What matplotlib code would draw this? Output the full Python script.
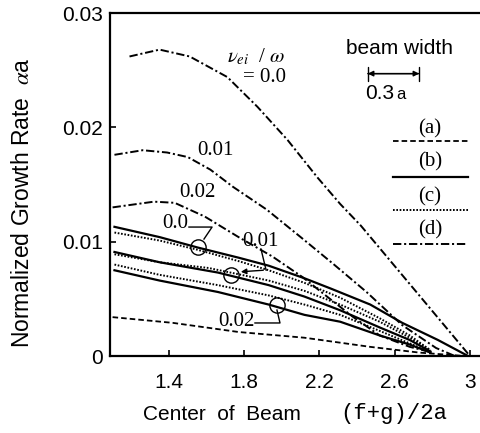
import matplotlib
matplotlib.use("Agg")
import matplotlib.pyplot as plt

plt.rcParams['font.family'] = ['Liberation Sans', 'DejaVu Sans']
plt.rcParams['mathtext.fontset'] = 'stix'
plt.rcParams['lines.scale_dashes'] = False

# (d) dash-dot curves, nu_ei/omega = 0.0, 0.01, 0.02
d00_x = [1.19, 1.35, 1.51, 1.71, 1.87, 2.03, 2.19, 2.31, 2.42, 2.70, 3.0]
d00_y = [0.0262, 0.0268, 0.0262, 0.0244, 0.0218, 0.0189, 0.0156, 0.0133, 0.0114, 0.0059, 0.0]
d01_x = [1.11, 1.26, 1.39, 1.50, 1.62, 1.74, 1.92, 2.10, 2.27, 2.45, 2.64, 2.82, 2.92]
d01_y = [0.0176, 0.0180, 0.0178, 0.0174, 0.0163, 0.0148, 0.0128, 0.0104, 0.0081, 0.0056, 0.0027, 0.0007, 0.0]
d02_x = [1.10, 1.32, 1.43, 1.59, 1.77, 1.95, 2.11, 2.24, 2.38, 2.52, 2.68, 2.79]
d02_y = [0.0130, 0.0135, 0.0134, 0.0122, 0.0104, 0.0087, 0.0069, 0.0052, 0.0034, 0.0018, 0.0008, 0.00035]

# (b) solid and (c) dotted curves
bx = [1.11, 1.35, 1.66, 1.93, 2.12, 2.31, 2.52, 2.68, 2.79]
b00_x = [1.11, 1.35, 1.55, 1.77, 1.93, 2.12, 2.26, 2.47, 2.64, 2.83, 2.99]
b00_y = [0.0113, 0.0104, 0.0095, 0.0086, 0.0079, 0.0068, 0.0059, 0.0045, 0.0029, 0.0014, 0.0]
c00_x = [1.11, 1.35, 1.55, 1.77, 1.93, 2.12, 2.31, 2.52, 2.68, 2.79]
c00_y = [0.0108, 0.0101, 0.0093, 0.0083, 0.0075, 0.0064, 0.0051, 0.0033, 0.0018, 0.0005]
b01_y = [0.0091, 0.0082, 0.0073, 0.0062, 0.0052, 0.0040, 0.0025, 0.0014, 0.0004]
c01_x = [1.11, 1.35, 1.61, 1.93, 2.12, 2.31, 2.52, 2.68, 2.79]
c01_y = [0.0089, 0.0082, 0.0077, 0.0066, 0.0057, 0.0045, 0.0030, 0.0016, 0.0005]
c02_y = [0.0080, 0.0071, 0.0062, 0.0053, 0.0045, 0.0036, 0.0022, 0.0011, 0.00035]
b02_y = [0.0075, 0.0066, 0.0056, 0.0045, 0.0036, 0.0030, 0.0018, 0.0010, 0.0003]

# (a) dashed curve
a_x = [1.10, 1.42, 1.77, 2.12, 2.47, 2.73, 2.97]
a_y = [0.0034, 0.0029, 0.0021, 0.0016, 0.0008, 0.0003, 0.0]

# circled points marking each nu_ei/omega pair
circle_x = [1.554, 1.730, 1.974]
circle_y = [0.0095, 0.0071, 0.00446]

DASHDOT = (0, (6, 2, 1.5, 2))
DASHED = (0, (4, 2.2))
DOTTED = (0, (1.2, 1.2))

fig = plt.figure(figsize=(4.81, 4.33), dpi=100)
ax = fig.add_axes([0.2287, 0.1778, 0.7713, 0.7921])

for xs, ys in [(d00_x, d00_y), (d01_x, d01_y), (d02_x, d02_y)]:
    ax.plot(xs, ys, color='black', lw=1.4, linestyle=DASHDOT)
ax.plot(b00_x, b00_y, color='black', lw=1.6)
ax.plot(c00_x, c00_y, color='black', lw=1.4, linestyle=DOTTED)
ax.plot(bx, b01_y, color='black', lw=1.6)
ax.plot(c01_x, c01_y, color='black', lw=1.4, linestyle=DOTTED)
ax.plot(bx, c02_y, color='black', lw=1.4, linestyle=DOTTED)
ax.plot(bx, b02_y, color='black', lw=1.6)
ax.plot(a_x, a_y, color='black', lw=1.3, linestyle=DASHED)
ax.plot(circle_x, circle_y, 'o', mfc='none', mec='black', ms=11, mew=1.0)

serif = dict(family='Liberation Serif', fontsize=15, ha='center', va='center')

# labels on the dash-dot family
ax.text(1.863, 0.0262, r'$\nu_{ei}$  / $\omega$', **serif)
ax.text(1.91, 0.0244, '= 0.0', **serif)
ax.text(1.645, 0.0180, '0.01', **serif)
ax.text(1.549, 0.0143, '0.02', **serif)

# labels with leaders for the solid/dotted pairs
ax.text(1.432, 0.0116, '0.0', **serif)
ax.plot([1.506, 1.629, 1.586], [0.01128, 0.01128, 0.01023], color='black', lw=1.0)
ax.text(1.884, 0.0100, '0.01', **serif)
ax.plot([1.889, 1.916], [0.00936, 0.00752], color='black', lw=1.0)
ax.annotate('', xy=(1.767, 0.00735), xytext=(1.916, 0.00752),
            arrowprops=dict(arrowstyle='-|>', color='black', lw=1.0, mutation_scale=8))
ax.text(1.756, 0.0030, '0.02', **serif)
ax.plot([1.857, 1.990, 1.974], [0.00289, 0.00289, 0.00402], color='black', lw=1.0)

# beam width indicator
ax.text(2.628, 0.0269, 'beam width', fontsize=15, ha='center', va='center')
ax.annotate('', xy=(2.442, 0.0247), xytext=(2.745, 0.0247),
            arrowprops=dict(arrowstyle='<|-|>', color='black', lw=1.0, mutation_scale=8))
ax.annotate('', xy=(2.442, 0.0247), xytext=(2.745, 0.0247),
            arrowprops=dict(arrowstyle='|-|', color='black', lw=1.0, mutation_scale=5))
ax.text(2.60, 0.0230, '0.3', fontsize=15, ha='right', va='center')
ax.text(2.61, 0.0229, 'a', fontsize=12, ha='left', va='center')

# line-style key
key = [('(a)', DASHED, 1.3), ('(b)', '-', 1.6), ('(c)', DOTTED, 1.4), ('(d)', DASHDOT, 1.4)]
key_label_y = [0.0199, 0.0170, 0.0139, 0.0110]
key_line_y = [0.0188, 0.0157, 0.0128, 0.0098]
for (lab, ls, lw), ly, sy in zip(key, key_label_y, key_line_y):
    ax.text(2.788, ly, lab, **serif)
    ax.plot([2.591, 2.990], [sy, sy], color='black', lw=lw, linestyle=ls)

ax.set_xlim(1.0863, 3.0587)
ax.set_ylim(0, 0.03)
ax.set_xticks([1.4, 1.8, 2.2, 2.6, 3.0])
ax.set_xticklabels(['1.4', '1.8', '2.2', '2.6', '3'])
ax.set_yticks([0, 0.01, 0.02, 0.03])
ax.set_yticklabels(['0', '0.01', '0.02', '0.03'])
ax.tick_params(direction='in', length=4, width=1.2, labelsize=15)
ax.tick_params(axis='x', pad=12)
ax.tick_params(axis='y', pad=5)
ax.spines['right'].set_visible(False)
for s in ['left', 'bottom', 'top']:
    ax.spines[s].set_linewidth(1.6)

# x label: sans words plus a typewriter formula
fig.text(222 / 481, 1 - 414 / 433, 'Center  of  Beam', fontsize=15, ha='center', va='center')
fig.text(394 / 481, 1 - 413 / 433, '(f+g)/2a', family='Liberation Mono', fontsize=16,
         ha='center', va='center')

ax.set_ylabel(r'Normalized Growth Rate  $\alpha$a', fontsize=16.5)
ax.yaxis.set_label_coords(-0.205, 0.446)

fig.savefig('out.png', dpi=100)
